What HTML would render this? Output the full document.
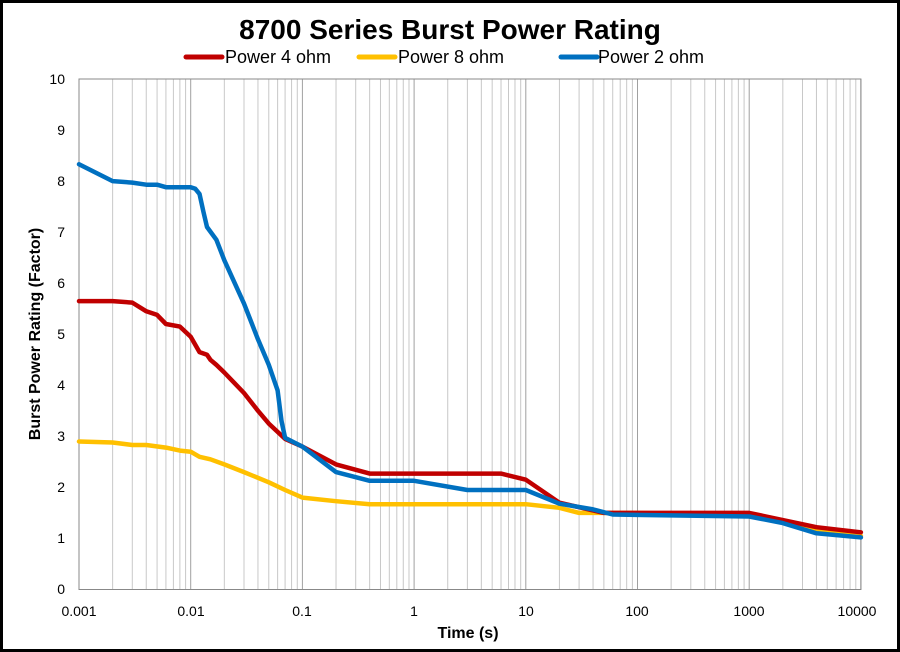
<!DOCTYPE html>
<html><head><style>
body{margin:0;background:#fff}
svg{display:block}
text{font-family:"Liberation Sans",sans-serif}
</style></head><body>
<svg id="s" width="900" height="652" xmlns="http://www.w3.org/2000/svg">
<rect x="1.5" y="1.5" width="897" height="649" fill="#fff" stroke="#000" stroke-width="3"/>
<g id="grid"></g>
<g id="lines"></g>
<text x="450" y="39" font-size="28" font-weight="bold" text-anchor="middle">8700 Series Burst Power Rating</text>
<line x1="186" y1="57" x2="222" y2="57" stroke="#c00000" stroke-width="5" stroke-linecap="round"/>
<text x="225" y="63" font-size="18">Power 4 ohm</text>
<line x1="359" y1="57" x2="395" y2="57" stroke="#ffc000" stroke-width="5" stroke-linecap="round"/>
<text x="398" y="63" font-size="18">Power 8 ohm</text>
<line x1="561" y1="57" x2="597" y2="57" stroke="#0070c0" stroke-width="5" stroke-linecap="round"/>
<text x="598" y="63" font-size="18">Power 2 ohm</text>
<g font-size="14" text-anchor="end">
<text x="65" y="594">0</text><text x="65" y="543">1</text><text x="65" y="492">2</text><text x="65" y="441">3</text><text x="65" y="390">4</text><text x="65" y="339">5</text><text x="65" y="288">6</text><text x="65" y="237">7</text><text x="65" y="186">8</text><text x="65" y="135">9</text><text x="65" y="84">10</text>
</g>
<g font-size="14" text-anchor="middle">
<text x="79" y="616">0.001</text><text x="191" y="616">0.01</text><text x="302" y="616">0.1</text><text x="414" y="616">1</text><text x="526" y="616">10</text><text x="637" y="616">100</text><text x="749" y="616">1000</text><text x="857" y="616">10000</text>
</g>
<text x="468" y="638" font-size="16" font-weight="bold" text-anchor="middle">Time (s)</text>
<text transform="translate(40,334) rotate(-90)" font-size="16" font-weight="bold" text-anchor="middle">Burst Power Rating (Factor)</text>
</svg>
<script>
var L=79,T=79,B=589.5,D=111.7,U=51.05,R=L+7*D;
function X(t){return L+D*(Math.log10(t)+3)}
function Y(v){return B-U*v}
var g='';
for(var d=0;d<7;d++)for(var k=2;k<=9;k++){var x=L+D*(d+Math.log10(k));g+='<line x1="'+x+'" y1="'+T+'" x2="'+x+'" y2="'+B+'" stroke="#c8c8c8" stroke-width="1"/>';}
for(var d=0;d<=7;d++){var x=L+D*d;g+='<line x1="'+x+'" y1="'+T+'" x2="'+x+'" y2="'+B+'" stroke="#a0a0a0" stroke-width="1"/>';}
g+='<rect x="'+L+'" y="'+T+'" width="'+(R-L)+'" height="'+(B-T)+'" fill="none" stroke="#888" stroke-width="1"/>';
document.getElementById('grid').innerHTML=g;
var red=[[0.001,5.65],[0.002,5.65],[0.003,5.62],[0.004,5.45],[0.005,5.38],[0.006,5.2],[0.008,5.15],[0.01,4.95],[0.012,4.65],[0.014,4.6],[0.015,4.5],[0.017,4.4],[0.02,4.25],[0.03,3.85],[0.04,3.5],[0.05,3.25],[0.07,2.95],[0.1,2.8],[0.2,2.45],[0.4,2.27],[1,2.27],[6,2.27],[10,2.15],[20,1.7],[50,1.5],[100,1.5],[1000,1.5],[4000,1.22],[10000,1.12]];
var yel=[[0.001,2.9],[0.002,2.88],[0.003,2.83],[0.004,2.83],[0.006,2.78],[0.008,2.72],[0.01,2.7],[0.012,2.6],[0.015,2.55],[0.02,2.45],[0.03,2.3],[0.05,2.1],[0.07,1.95],[0.1,1.8],[0.2,1.73],[0.4,1.67],[1,1.67],[10,1.67],[20,1.6],[30,1.5],[50,1.5],[100,1.5],[1000,1.45],[2000,1.33],[4000,1.15],[10000,1.05]];
var blu=[[0.001,8.33],[0.002,8.0],[0.003,7.97],[0.004,7.93],[0.005,7.93],[0.006,7.88],[0.008,7.88],[0.01,7.88],[0.011,7.85],[0.012,7.75],[0.013,7.4],[0.014,7.1],[0.017,6.85],[0.02,6.45],[0.03,5.6],[0.04,4.9],[0.05,4.4],[0.06,3.9],[0.065,3.3],[0.07,2.97],[0.1,2.8],[0.2,2.3],[0.4,2.13],[1,2.13],[3,1.95],[10,1.95],[20,1.68],[40,1.57],[60,1.47],[1000,1.43],[2000,1.3],[4000,1.1],[10000,1.02]];
function pl(a,c){return '<polyline fill="none" stroke="'+c+'" stroke-width="4.5" stroke-linejoin="round" stroke-linecap="round" points="'+a.map(function(p){return X(p[0]).toFixed(1)+','+Y(p[1]).toFixed(1)}).join(' ')+'"/>'}
document.getElementById('lines').innerHTML=pl(yel,'#ffc000')+pl(red,'#c00000')+pl(blu,'#0070c0');
</script>
</body></html>
